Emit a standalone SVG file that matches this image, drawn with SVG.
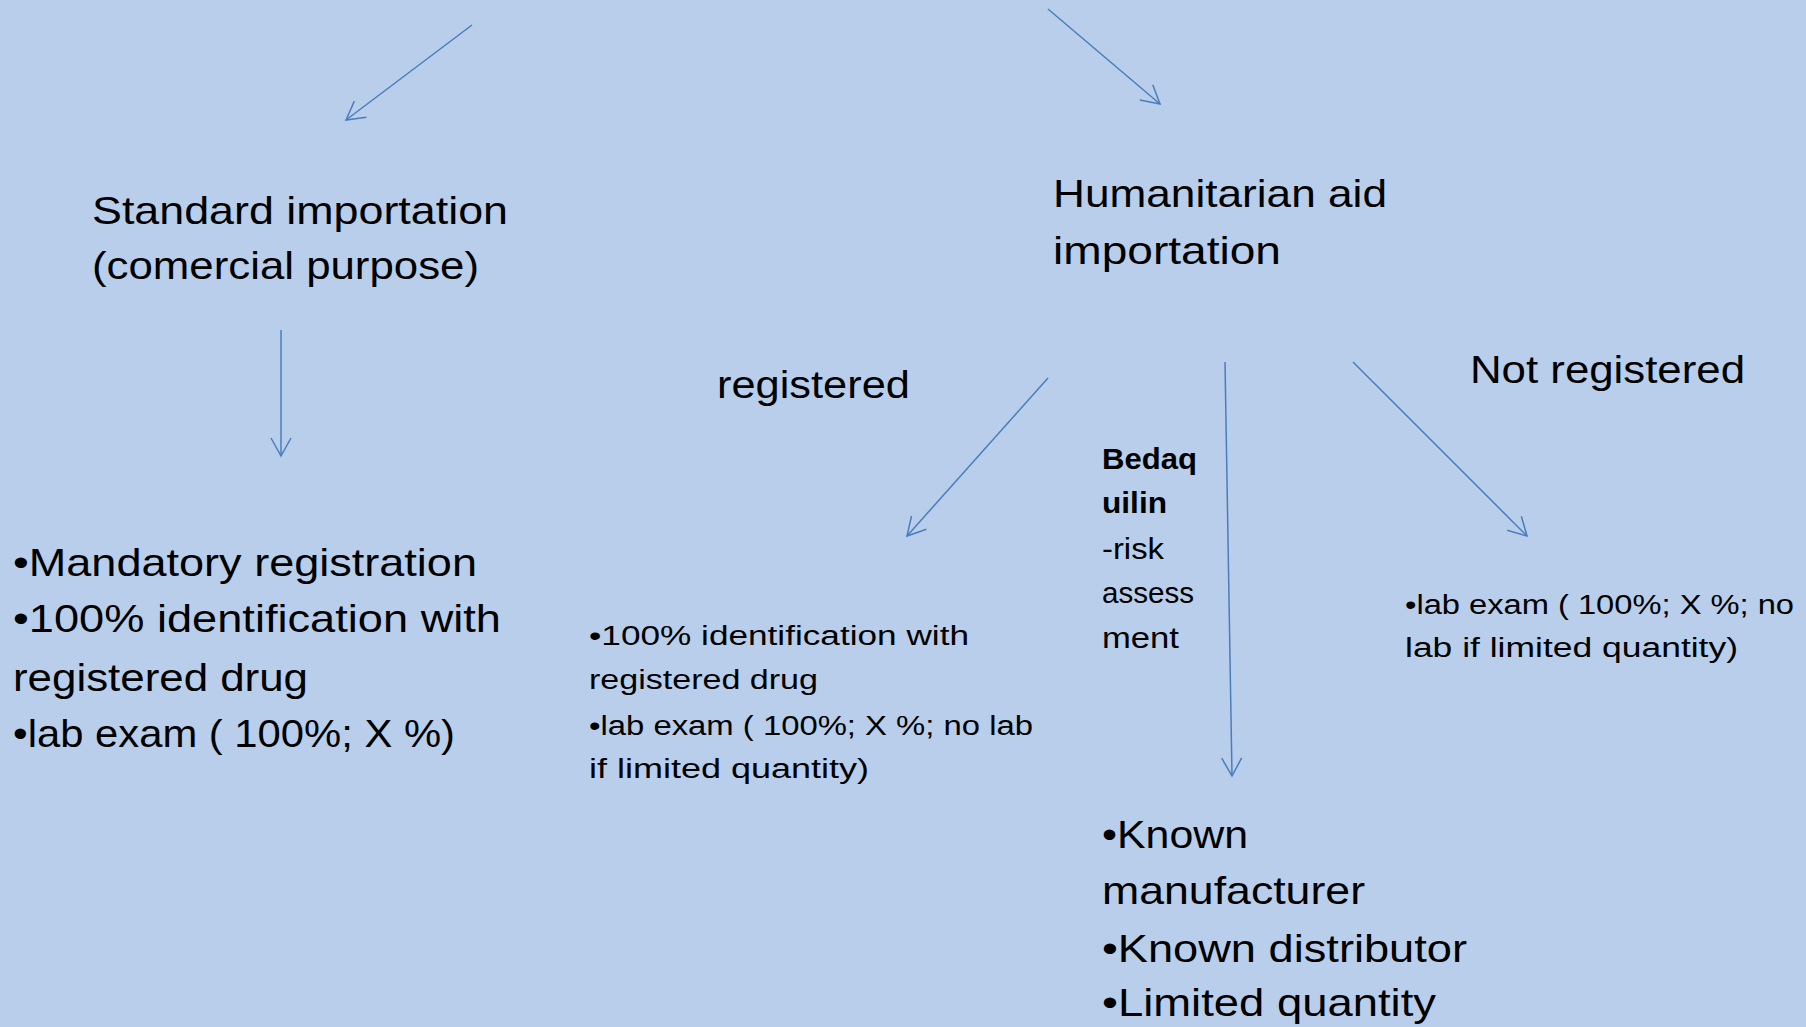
<svg xmlns="http://www.w3.org/2000/svg" width="1806" height="1027" viewBox="0 0 1806 1027">
<style>
  .t { font-family: "Liberation Sans", Arial, sans-serif; fill: #000; }
  .big { font-size: 39px; }
  .med { font-size: 27px; }
  .sm { font-size: 29px; }
  .b { font-weight: bold; }
  .conn { stroke: #4A7EBB; stroke-width: 1.5; fill: none; marker-end: url(#open); }
</style>
<defs>
  <marker id="open" markerUnits="userSpaceOnUse" viewBox="0 0 22 22" markerWidth="22" markerHeight="22" refX="20" refY="11" orient="auto">
    <path d="M2,1 L20,11 L2,21" fill="none" stroke="#4A7EBB" stroke-width="1.5"/>
  </marker>
</defs>
<rect width="1806" height="1027" fill="#B9CEEB"/>

<g id="connectors">
  <line class="conn" x1="472" y1="25" x2="346" y2="120"/>
  <line class="conn" x1="1048" y1="9" x2="1160" y2="104"/>
  <line class="conn" x1="281" y1="330" x2="281" y2="456"/>
  <line class="conn" x1="1048" y1="378" x2="907" y2="536"/>
  <line class="conn" x1="1225" y1="362" x2="1232" y2="776"/>
  <line class="conn" x1="1353" y1="362" x2="1527" y2="536"/>
</g>

<g id="node-standard">
  <text class="t big" x="92" y="224" textLength="416" lengthAdjust="spacingAndGlyphs">Standard importation</text>
  <text class="t big" x="92" y="279" textLength="387" lengthAdjust="spacingAndGlyphs">(comercial purpose)</text>
</g>

<g id="node-humanitarian">
  <text class="t big" x="1053" y="207" textLength="334" lengthAdjust="spacingAndGlyphs">Humanitarian aid</text>
  <text class="t big" x="1053" y="264" textLength="228" lengthAdjust="spacingAndGlyphs">importation</text>
</g>

<g id="label-registered">
  <text class="t big" x="717" y="398" textLength="193" lengthAdjust="spacingAndGlyphs">registered</text>
</g>

<g id="label-not-registered">
  <text class="t big" x="1470" y="383" textLength="275" lengthAdjust="spacingAndGlyphs">Not registered</text>
</g>

<g id="node-standard-requirements">
  <text class="t big" x="13" y="576" textLength="464" lengthAdjust="spacingAndGlyphs">•Mandatory registration</text>
  <text class="t big" x="13" y="632" textLength="488" lengthAdjust="spacingAndGlyphs">•100% identification with</text>
  <text class="t big" x="13" y="691" textLength="295" lengthAdjust="spacingAndGlyphs">registered drug</text>
  <text class="t big" x="13" y="747" textLength="442" lengthAdjust="spacingAndGlyphs">•lab exam ( 100%; X %)</text>
</g>

<g id="node-registered-requirements">
  <text class="t med" x="589" y="645" textLength="380" lengthAdjust="spacingAndGlyphs">•100% identification with</text>
  <text class="t med" x="589" y="689" textLength="229" lengthAdjust="spacingAndGlyphs">registered drug</text>
  <text class="t med" x="589" y="735" textLength="444" lengthAdjust="spacingAndGlyphs">•lab exam ( 100%; X %; no lab</text>
  <text class="t med" x="589" y="778" textLength="280" lengthAdjust="spacingAndGlyphs">if limited quantity)</text>
</g>

<g id="node-bedaquilin">
  <text class="t sm b" x="1102" y="469" textLength="95" lengthAdjust="spacingAndGlyphs">Bedaq</text>
  <text class="t sm b" x="1102" y="513" textLength="65" lengthAdjust="spacingAndGlyphs">uilin</text>
  <text class="t sm" x="1102" y="559" textLength="62" lengthAdjust="spacingAndGlyphs">-risk</text>
  <text class="t sm" x="1102" y="603" textLength="92" lengthAdjust="spacingAndGlyphs">assess</text>
  <text class="t sm" x="1102" y="648" textLength="77" lengthAdjust="spacingAndGlyphs">ment</text>
</g>

<g id="node-not-registered-requirements">
  <text class="t med" x="1405" y="614" textLength="389" lengthAdjust="spacingAndGlyphs">•lab exam ( 100%; X %; no</text>
  <text class="t med" x="1405" y="657" textLength="333" lengthAdjust="spacingAndGlyphs">lab if limited quantity)</text>
</g>

<g id="node-bedaquilin-requirements">
  <text class="t big" x="1102" y="848" textLength="146" lengthAdjust="spacingAndGlyphs">•Known</text>
  <text class="t big" x="1102" y="904" textLength="263" lengthAdjust="spacingAndGlyphs">manufacturer</text>
  <text class="t big" x="1102" y="962" textLength="365" lengthAdjust="spacingAndGlyphs">•Known distributor</text>
  <text class="t big" x="1102" y="1016" textLength="334" lengthAdjust="spacingAndGlyphs">•Limited quantity</text>
</g>
</svg>
